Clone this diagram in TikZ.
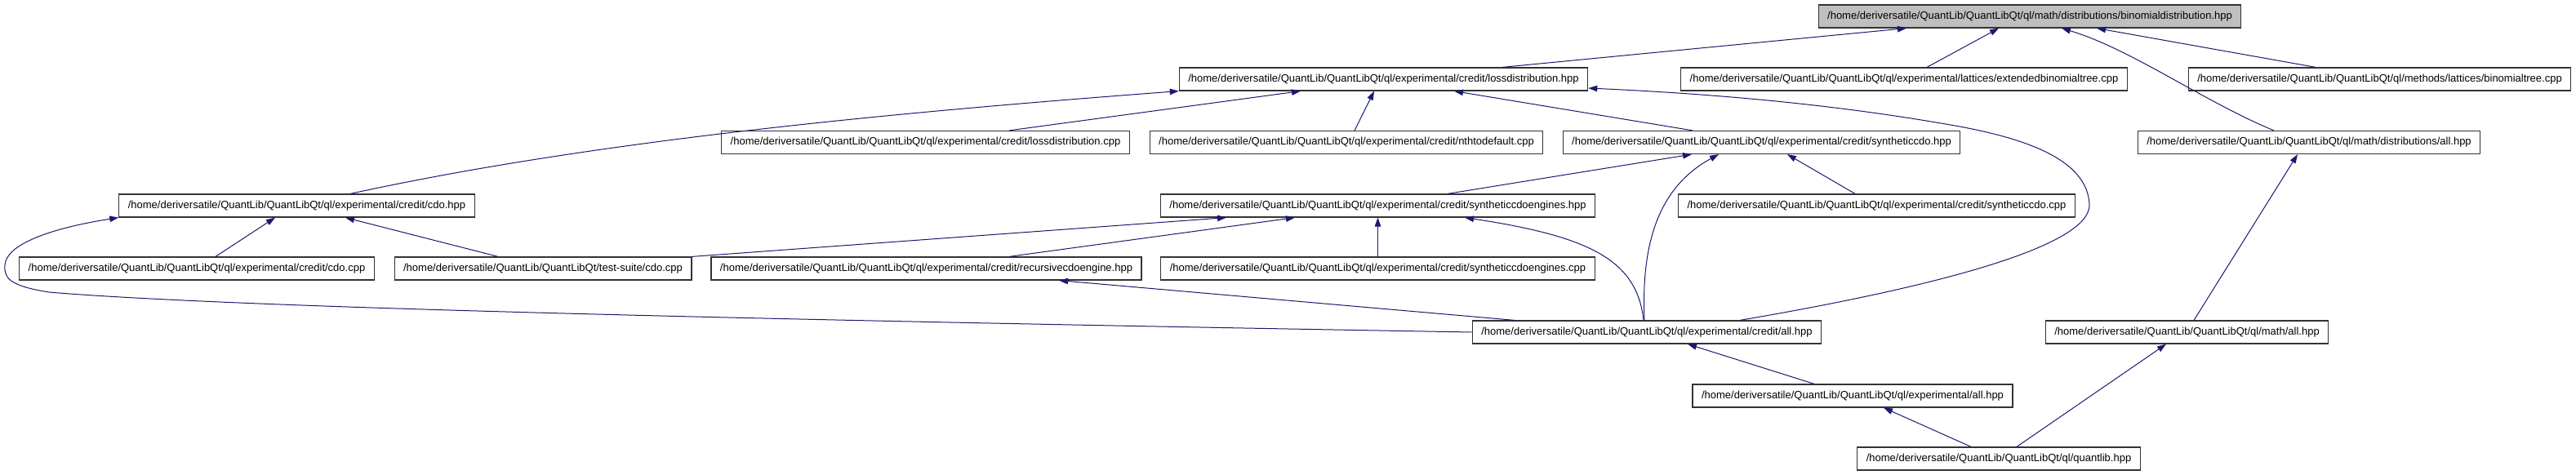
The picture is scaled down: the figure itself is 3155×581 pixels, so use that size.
\documentclass[tikz,border=0pt]{standalone}
\usepackage{fontspec}
\setmainfont{Liberation Sans}
\usetikzlibrary{arrows.meta}
\definecolor{edgeblue}{HTML}{191970}
\definecolor{rootgray}{HTML}{BFBFBF}
\begin{document}
\begin{tikzpicture}[x=1pt, y=-1pt, >={Triangle[length=11pt,width=7.5pt]},
  filebox/.style={draw=black!80, line width=1.2pt, fill=white, inner xsep=11pt, inner ysep=0pt, minimum height=28pt, font=\fontsize{13}{15}\selectfont},
  rootbox/.style={filebox, fill=rootgray},
  incl/.style={->, draw=edgeblue, fill=none, line width=1pt}]
\useasboundingbox (0,0) rectangle (3155,581);
% files
\node[rootbox] (binomdist) at (2486,20) {/home/deriversatile/QuantLib/QuantLibQt/ql/math/distributions/binomialdistribution.hpp};
\node[filebox] (lossdisthpp) at (1694.5,97) {/home/deriversatile/QuantLib/QuantLibQt/ql/experimental/credit/lossdistribution.hpp};
\node[filebox] (extbintree) at (2332,97) {/home/deriversatile/QuantLib/QuantLibQt/ql/experimental/lattices/extendedbinomialtree.cpp};
\node[filebox] (bintree) at (2914.5,97) {/home/deriversatile/QuantLib/QuantLibQt/ql/methods/lattices/binomialtree.cpp};
\node[filebox] (lossdistcpp) at (1133.5,174.5) {/home/deriversatile/QuantLib/QuantLibQt/ql/experimental/credit/lossdistribution.cpp};
\node[filebox] (nthdefault) at (1649,174.5) {/home/deriversatile/QuantLib/QuantLibQt/ql/experimental/credit/nthtodefault.cpp};
\node[filebox] (synthcdohpp) at (2157.5,174.5) {/home/deriversatile/QuantLib/QuantLibQt/ql/experimental/credit/syntheticcdo.hpp};
\node[filebox] (distall) at (2828,174.5) {/home/deriversatile/QuantLib/QuantLibQt/ql/math/distributions/all.hpp};
\node[filebox] (cdohpp) at (363.5,252) {/home/deriversatile/QuantLib/QuantLibQt/ql/experimental/credit/cdo.hpp};
\node[filebox] (synthengineshpp) at (1687.5,252) {/home/deriversatile/QuantLib/QuantLibQt/ql/experimental/credit/syntheticcdoengines.hpp};
\node[filebox] (synthcdocpp) at (2298.5,252) {/home/deriversatile/QuantLib/QuantLibQt/ql/experimental/credit/syntheticcdo.cpp};
\node[filebox] (cdocpp) at (241,329) {/home/deriversatile/QuantLib/QuantLibQt/ql/experimental/credit/cdo.cpp};
\node[filebox] (testcdo) at (665,329) {/home/deriversatile/QuantLib/QuantLibQt/test-suite/cdo.cpp};
\node[filebox] (recursive) at (1134.5,329) {/home/deriversatile/QuantLib/QuantLibQt/ql/experimental/credit/recursivecdoengine.hpp};
\node[filebox] (synthenginescpp) at (1687.5,329) {/home/deriversatile/QuantLib/QuantLibQt/ql/experimental/credit/syntheticcdoengines.cpp};
\node[filebox] (creditall) at (2017,407) {/home/deriversatile/QuantLib/QuantLibQt/ql/experimental/credit/all.hpp};
\node[filebox] (mathall) at (2678.5,407) {/home/deriversatile/QuantLib/QuantLibQt/ql/math/all.hpp};
\node[filebox] (expall) at (2269,485) {/home/deriversatile/QuantLib/QuantLibQt/ql/experimental/all.hpp};
\node[filebox] (quantlib) at (2448,562) {/home/deriversatile/QuantLib/QuantLibQt/ql/quantlib.hpp};
% includes
\draw[incl] ([xshift=145.5pt]lossdisthpp.north) -- ([xshift=-151pt]binomdist.south);
\draw[incl] ([xshift=28pt]extbintree.north) -- ([xshift=-38pt]binomdist.south);
\draw[incl] ([xshift=-43pt]distall.north) .. controls (2700,125) and (2610,60) .. ([xshift=39pt]binomdist.south);
\draw[incl] ([xshift=-78.5pt]bintree.north) -- ([xshift=82pt]binomdist.south);
\draw[incl] ([xshift=102.5pt]lossdistcpp.north) -- ([xshift=-101.5pt]lossdisthpp.south);
\draw[incl] ([xshift=65.5pt]cdohpp.north) .. controls (729,172) and (1093,138) .. (lossdisthpp.south west);
\draw[incl] ([xshift=10pt]nthdefault.north) -- ([xshift=-11.5pt]lossdisthpp.south);
\draw[incl] ([xshift=-84.5pt]synthcdohpp.north) -- ([xshift=86.5pt]lossdisthpp.south);
\draw[incl] ([xshift=114pt]creditall.north) .. controls (2380,350) and (2562,300) .. (2559,250)
  .. controls (2556,195) and (2480,170) .. (2400,155)
  .. controls (2250,128) and (2100,115) .. ([yshift=-11pt]lossdisthpp.east);
\draw[incl] ([xshift=85.5pt]synthengineshpp.north) -- ([xshift=-85.5pt]synthcdohpp.south);
\draw[incl] ([xshift=-3pt]creditall.north) .. controls (2010,300) and (2030,230) .. ([xshift=-52.5pt]synthcdohpp.south);
\draw[incl] ([xshift=-26.5pt]synthcdocpp.north) -- ([xshift=31.5pt]synthcdohpp.south);
\draw[incl] ([xshift=8.5pt]mathall.north) -- ([xshift=-14pt]distall.south);
\draw[incl] ([xshift=23pt]cdocpp.north) -- ([xshift=-26.5pt]cdohpp.south);
\draw[incl] ([xshift=-55pt]testcdo.north) -- ([xshift=59.5pt]cdohpp.south);
\draw[incl] (creditall.west) .. controls (1000,393) and (300,378) .. (60,358)
  .. controls (10,350) and (5,340) .. (6,325)
  .. controls (7,300) and (60,280) .. (cdohpp.south west);
\draw[incl] (testcdo.north east) -- ([xshift=-185.5pt]synthengineshpp.south);
\draw[incl] ([xshift=101.5pt]recursive.north) -- ([xshift=-101.5pt]synthengineshpp.south);
\draw[incl] (synthenginescpp.north) -- (synthengineshpp.south);
\draw[incl] ([xshift=-4pt]creditall.north) .. controls (2005,320) and (1950,290) .. ([xshift=106.5pt]synthengineshpp.south);
\draw[incl] ([xshift=-162pt]creditall.north) -- ([xshift=162.5pt]recursive.south);
\draw[incl] ([xshift=-47pt]expall.north) -- ([xshift=50pt]creditall.south);
\draw[incl] ([xshift=-34pt]quantlib.north) -- ([xshift=38pt]expall.south);
\draw[incl] ([xshift=22pt]quantlib.north) -- ([xshift=-25.5pt]mathall.south);
\end{tikzpicture}
\end{document}
